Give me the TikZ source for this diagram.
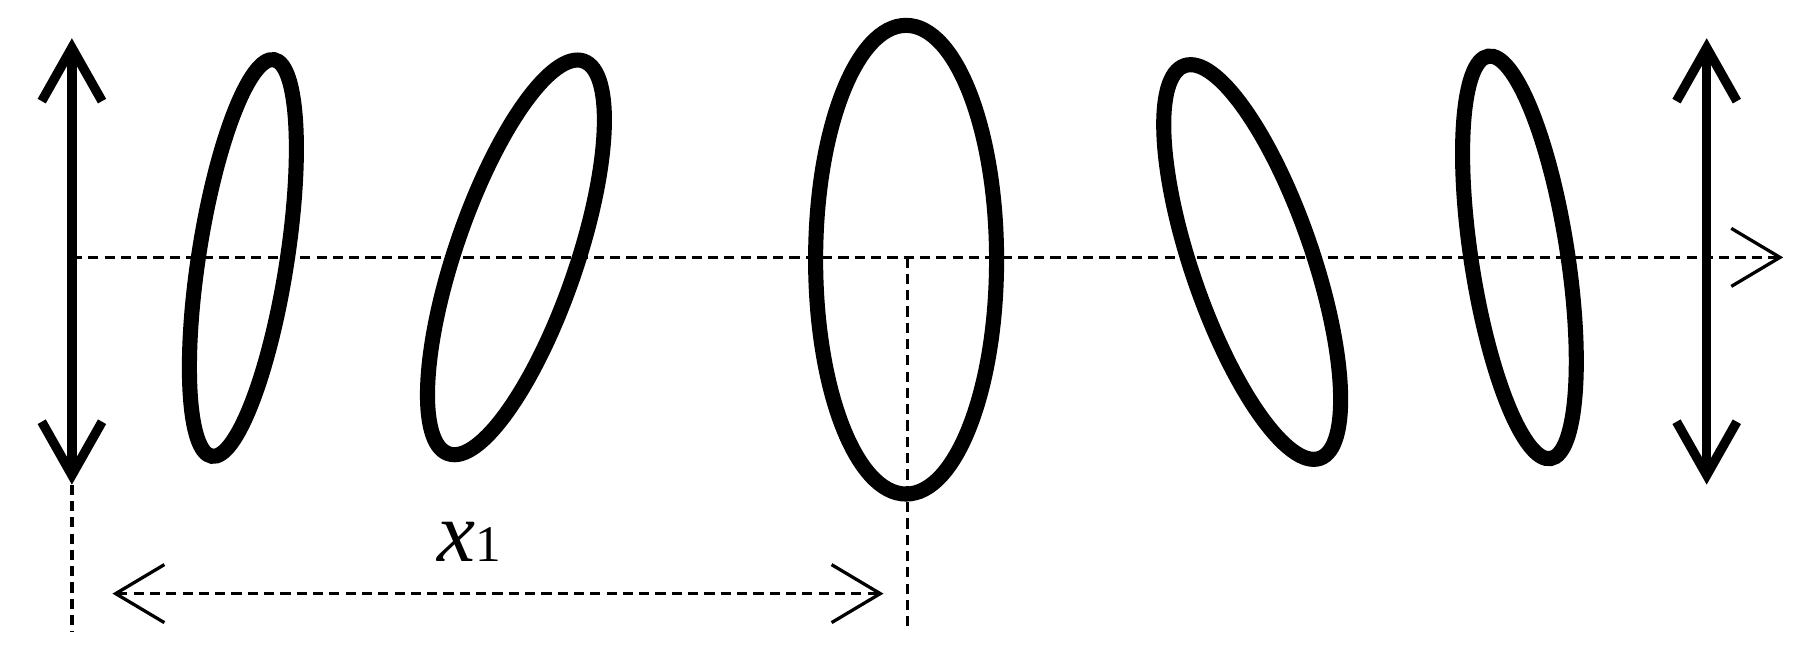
\documentclass[tikz,border=0pt]{standalone}
\usepackage{fontspec}
\setmainfont{Liberation Serif}
\usetikzlibrary{arrows.meta,shapes.geometric,positioning}
\tikzset{
    thinhead/.tip={Straight Barb[length=0.42cm,width=0.5cm,line width=0.8pt]},
    polhead/.tip={Straight Barb[length=0.46cm,width=0.52cm]}
}

\begin{document}
\begin{tikzpicture}[x=0.01cm, y=0.01cm,
    lens/.style={draw, ellipse, line width=3.7pt, inner sep=0pt},
    pol/.style={line width=2.3pt, polhead-polhead},
    guide/.style={line width=0.8pt, dash pattern=on 2.5pt off 1.5pt}]
\useasboundingbox (0,0) rectangle (1568,564);

\coordinate (p1top) at (62,531);
\coordinate (p1bot) at (62,146);
\coordinate (p2top) at (1472,531);
\coordinate (p2bot) at (1472,146);
\coordinate (z0) at (62,342);
\coordinate (z1) at (1538,342);
\coordinate (c0) at (783,342);
\coordinate (c1) at (783,19);
\coordinate (p1end) at (62,19);
\coordinate (d0) at (97,52);
\coordinate (d1) at (762,52);

\node[lens, minimum width=0.76cm, minimum height=3.46cm, rotate=-8.9] at (209.5,341.5) (e1) {};
\node[lens, minimum width=1.04cm, minimum height=3.58cm, rotate=-19] at (445,342) (e2) {};
\node[lens, minimum width=1.56cm, minimum height=4.04cm] at (781.5,340) (e3) {};
\node[lens, minimum width=1.04cm, minimum height=3.58cm, rotate=19] at (1080,338) (e4) {};
\node[lens, minimum width=0.83cm, minimum height=3.51cm, rotate=8.8] at (1310.5,342) (e5) {};

\draw[guide, -thinhead] (z0) -- (z1);
\draw[guide] (p1bot) -- (p1end);
\draw[guide] (c0) -- (c1);
\draw[guide, thinhead-thinhead] (d0) -- (d1);

\draw[pol] (p1bot) -- (p1top);
\draw[pol] (p2bot) -- (p2top);

\node[anchor=base] at (405,80) (x1) {{\fontsize{21}{21}\selectfont\itshape x}{\fontsize{12.6}{13}\selectfont 1}};
\end{tikzpicture}
\end{document}
